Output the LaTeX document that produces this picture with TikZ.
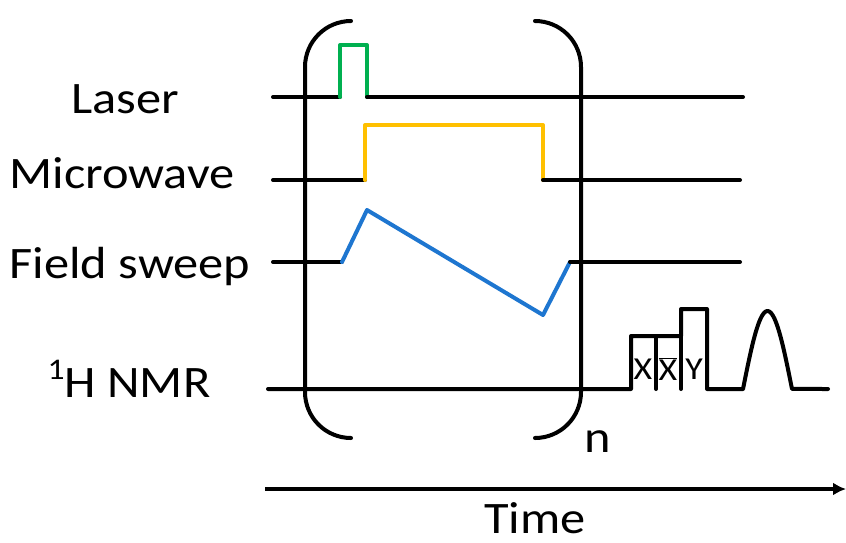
\documentclass[tikz,border=0pt]{standalone}
\usepackage{fontspec}
\setmainfont{Carlito}[FakeStretch=1.12]
\usepackage{tikz}
\usetikzlibrary{arrows.meta,positioning,calc}
\definecolor{lasergreen}{RGB}{0,176,80}
\definecolor{mwyellow}{RGB}{255,192,0}
\definecolor{sweepblue}{RGB}{30,118,208}

\begin{document}
\begin{tikzpicture}[x=1pt, y=-1pt, line width=4pt, line join=round, line cap=round]
  \tikzstyle{label} = [font=\fontsize{45}{54}\selectfont, inner sep=0pt]
  \tikzstyle{small} = [font=\fontsize{32}{38}\selectfont, inner sep=0pt]
  \tikzstyle{bracket} = [rounded corners=46pt]

  \useasboundingbox (0,0) rectangle (846,542);

  % channel labels
  \node[label, anchor=base] (laser) at (125,113) {Laser};
  \node[label, anchor=base] (mw) at (122,188) {Microwave};
  \node[label, anchor=base] (sweep) at (130,278) {Field sweep};
  \node[label, anchor=base] (nmr) at (129,397) {\raisebox{0.38em}{\fontsize{30}{36}\selectfont 1}H NMR};

  % laser
  \draw (273,97) -- (340,97);
  \draw[lasergreen] (340,97) -- (340,45) -- (367,45) -- (367,97);
  \draw (367,97) -- (743,97);

  % microwave
  \draw (273,180) -- (365,180);
  \draw[mwyellow] (365,180) -- (365,125) -- (543,125) -- (543,180);
  \draw (543,180) -- (740,180);

  % field sweep
  \draw (273,262) -- (342,262);
  \draw[sweepblue] (342,262) -- (367,210) -- (543,315) -- (570,262);
  \draw (570,262) -- (740,262);

  % nmr
  \draw (268,389) -- (631,389) -- (631,336) -- (681,336) -- (681,309) -- (707,309)
    -- (707,389) -- (743,389)
    plot[domain=0:1, samples=40] ({743+49*\x}, {389-78*sin(180*\x)})
    -- (828,389);
  \draw (656,336) -- (656,389);
  \draw (681,336) -- (681,389);
  \node[small] (px) at (643,369) {X};
  \node[small] (pxbar) at (668,369) {$\overline{\mbox{X}}$};
  \node[small] (py) at (694,369) {Y};

  % brackets
  \draw[bracket] (351,21) -| (305,438) -- (351,438);
  \draw[bracket] (535,21) -| (581,438) -- (535,438);
  \node[label, anchor=base] (n) at (598,452) {n};

  % time axis
  \coordinate (t0) at (265,489);
  \coordinate (t1) at (846,489);
  \draw[-{Latex[length=13pt,width=13pt]}, line cap=butt] (t0) -- (t1);
  \node[label, anchor=base] (time) at (535,533) {Time};
\end{tikzpicture}
\end{document}
